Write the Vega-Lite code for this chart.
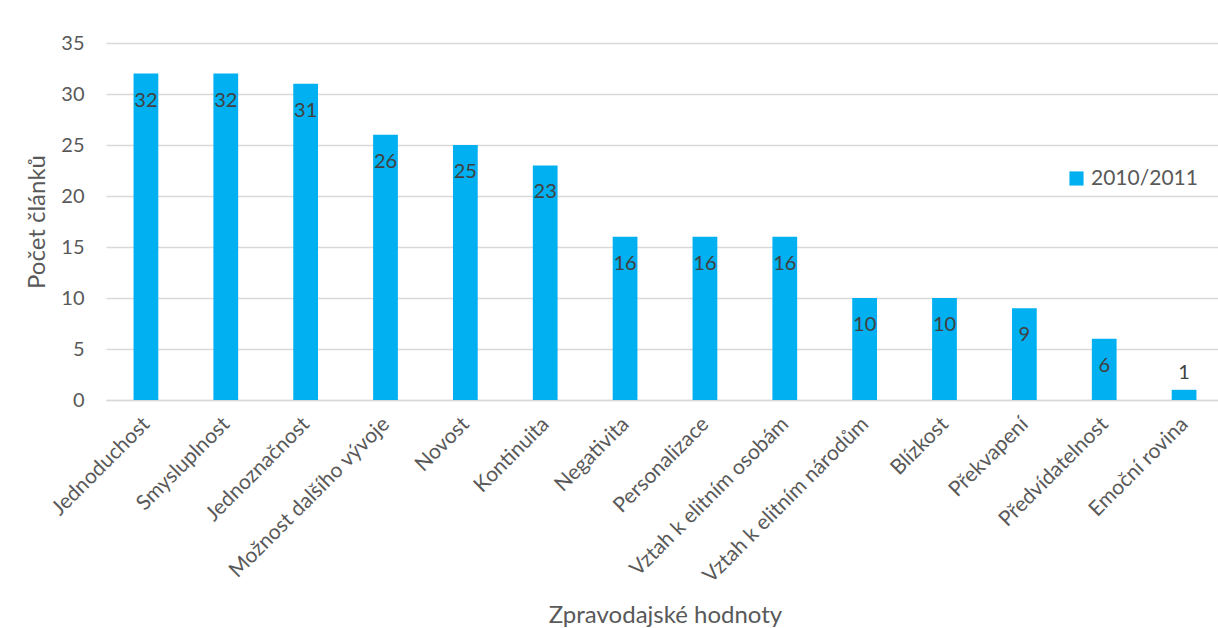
{
  "$schema": "https://vega.github.io/schema/vega-lite/v6.json",
  "autosize": "none",
  "width": 1118,
  "height": 357,
  "padding": {"left": 106, "top": 43, "right": 0, "bottom": 228},
  "background": "white",
  "config": {
    "font": "Lato",
    "view": {"stroke": null},
    "axis": {"labelColor": "#595959", "titleColor": "#595959", "titleFontWeight": "normal", "labelFont": "Lato", "titleFont": "Lato"}
  },
  "data": {
    "values": [
      {"hodnota": "Jednoduchost", "pocet": 32, "rok": "2010/2011"},
      {"hodnota": "Smysluplnost", "pocet": 32, "rok": "2010/2011"},
      {"hodnota": "Jednoznačnost", "pocet": 31, "rok": "2010/2011"},
      {"hodnota": "Možnost dalšího vývoje", "pocet": 26, "rok": "2010/2011"},
      {"hodnota": "Novost", "pocet": 25, "rok": "2010/2011"},
      {"hodnota": "Kontinuita", "pocet": 23, "rok": "2010/2011"},
      {"hodnota": "Negativita", "pocet": 16, "rok": "2010/2011"},
      {"hodnota": "Personalizace", "pocet": 16, "rok": "2010/2011"},
      {"hodnota": "Vztah k elitním osobám", "pocet": 16, "rok": "2010/2011"},
      {"hodnota": "Vztah k elitním národům", "pocet": 10, "rok": "2010/2011"},
      {"hodnota": "Blízkost", "pocet": 10, "rok": "2010/2011"},
      {"hodnota": "Překvapení", "pocet": 9, "rok": "2010/2011"},
      {"hodnota": "Předvídatelnost", "pocet": 6, "rok": "2010/2011"},
      {"hodnota": "Emoční rovina", "pocet": 1, "rok": "2010/2011"}
    ]
  },
  "encoding": {
    "x": {
      "field": "hodnota", "type": "nominal", "sort": null,
      "scale": {"paddingInner": 0.69, "paddingOuter": 0.345},
      "axis": {
        "title": "Zpravodajské hodnoty", "titleFontSize": 24, "titlePadding": 17,
        "labelAngle": -45, "labelFontSize": 21, "labelPadding": 13, "labelOffset": -7,
        "ticks": false, "domainColor": "#D9D9D9", "domainWidth": 1.5, "labelLimit": 400
      }
    },
    "y": {
      "field": "pocet", "type": "quantitative",
      "scale": {"domain": [0, 35]},
      "axis": {
        "title": "Počet článků", "titleFontSize": 24, "titlePadding": 11,
        "values": [0, 5, 10, 15, 20, 25, 30, 35], "labelFontSize": 20, "labelPadding": 22,
        "ticks": false, "domain": false, "gridColor": "#D9D9D9", "gridWidth": 1.5
      }
    }
  },
  "layer": [
    {
      "mark": {"type": "bar", "color": "#00B0F0"},
      "encoding": {
        "color": {
          "field": "rok", "type": "nominal",
          "scale": {"range": ["#00B0F0"]},
          "legend": {
            "title": null, "orient": "none", "legendX": 960, "legendY": 125,
            "symbolType": "square", "symbolSize": 200, "labelFontSize": 21,
            "labelColor": "#595959", "labelFont": "Lato", "labelOffset": 4
          }
        }
      }
    },
    {
      "transform": [{"filter": "datum.pocet > 3"}],
      "mark": {"type": "text", "baseline": "middle", "dy": 27, "fontSize": 20, "color": "#404040"},
      "encoding": {"text": {"field": "pocet", "type": "quantitative"}}
    },
    {
      "transform": [{"filter": "datum.pocet <= 3"}],
      "mark": {"type": "text", "baseline": "middle", "dy": -17, "fontSize": 20, "color": "#404040"},
      "encoding": {"text": {"field": "pocet", "type": "quantitative"}}
    }
  ]
}
